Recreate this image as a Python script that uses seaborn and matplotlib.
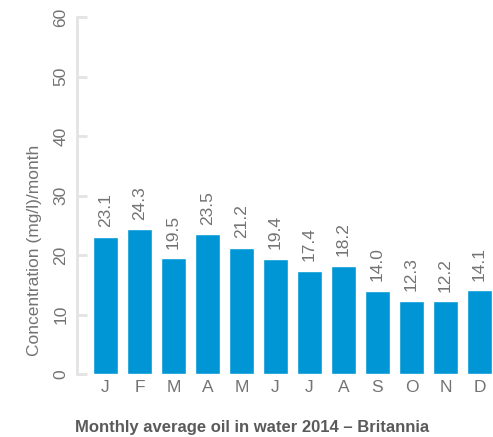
import matplotlib
matplotlib.use("Agg")
import matplotlib.pyplot as plt
import seaborn as sns
import pandas as pd

months = ["J", "F", "M", "A", "M", "J", "J", "A", "S", "O", "N", "D"]
concentration = [23.1, 24.3, 19.5, 23.5, 21.2, 19.4, 17.4, 18.2, 14.0, 12.3, 12.2, 14.1]
y_ticks = [0, 10, 20, 30, 40, 50, 60]

sns.set_theme(style="white")
plt.rcParams["font.family"] = ["Liberation Sans", "DejaVu Sans"]

BAR = "#0096d6"
TXT = "#737373"
GRID = "#e3e3e3"

df = pd.DataFrame({"idx": range(len(months)), "value": concentration})

fig = plt.figure(figsize=(4.93, 4.37), dpi=100)
ax = fig.add_axes([0.156, 0.144, 0.844, 0.817])

sns.barplot(data=df, x="idx", y="value", color=BAR, saturation=1,
            width=0.74, ax=ax, native_scale=False)

ax.set_ylim(0, 60)
ax.set_xlim(-0.84, 11.4)
ax.set_yticks(y_ticks)
ax.set_yticklabels([str(t) for t in y_ticks], rotation=90, va="center",
                   color=TXT, fontsize=12.5)
ax.set_xticks(range(len(months)))
ax.set_xticklabels(months, color=TXT, fontsize=12.5)

ax.tick_params(axis="y", direction="in", length=7, width=2, color=GRID, pad=6, left=True)
ax.tick_params(axis="x", length=0, pad=4)

for side in ["top", "right", "bottom"]:
    ax.spines[side].set_visible(False)
ax.spines["left"].set_color(GRID)
ax.spines["left"].set_linewidth(2)

for i, v in enumerate(concentration):
    ax.text(i, v + 1.6, f"{v:.1f}", rotation=90, ha="center", va="bottom",
            color=TXT, fontsize=12.5)

ax.set_xlabel("")
ax.set_ylabel("Concentration (mg/l)/month", color=TXT, fontsize=12.5)
ax.yaxis.set_label_coords(-0.085, 0.347)

fig.text(0.152, 0.022, "Monthly average oil in water 2014 \u2013 Britannia",
         ha="left", va="center", color="#5a5a5a", fontsize=12, fontweight="bold")

fig.savefig("out.png", dpi=100)
